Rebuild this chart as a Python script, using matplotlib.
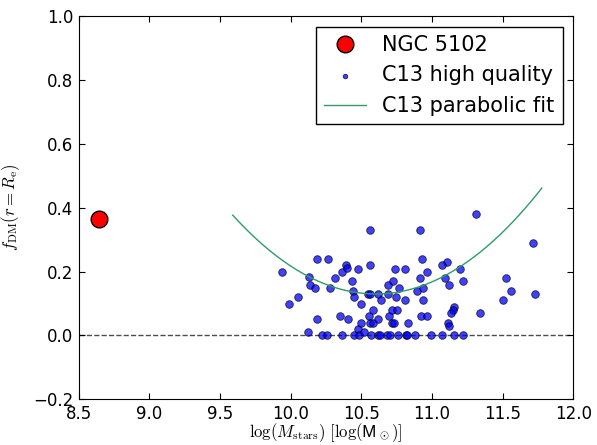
import numpy as np
import matplotlib
matplotlib.use('Agg')
import matplotlib.pyplot as plt

plt.rcParams['mathtext.fontset'] = 'cm'

# NGC 5102
ngc_x = [8.644]
ngc_y = [0.364]

# C13 high quality sample
c13_x = [9.937, 9.988, 10.054, 10.128, 10.137, 10.170, 10.189, 10.189, 10.123, 10.220,
         10.259, 10.266, 10.278, 10.314, 10.351, 10.363, 10.361, 10.392, 10.397, 10.408,
         10.434, 10.443, 10.446, 10.446, 10.479, 10.479, 10.486, 10.498, 10.498, 10.521,
         10.564, 10.564, 10.550, 10.562, 10.552, 10.581, 10.562, 10.585, 10.567, 10.618,
         10.637, 10.618, 10.618, 10.632, 10.684, 10.703, 10.689, 10.689, 10.698, 10.717,
         10.726, 10.717, 10.731, 10.736, 10.743, 10.751, 10.765, 10.758, 10.816, 10.823,
         10.880, 10.809, 10.809, 10.828, 10.892, 10.915, 10.927, 10.913, 10.939, 10.935,
         10.963, 10.923, 10.967, 10.990, 11.312, 11.717, 11.104, 11.071, 11.201, 11.094,
         11.121, 11.222, 11.524, 11.557, 11.727, 11.503, 11.340, 11.156, 11.147, 11.133,
         11.111, 11.119, 11.069, 11.156, 11.222]
c13_y = [0.200, 0.100, 0.120, 0.182, 0.159, 0.150, 0.239, 0.051, 0.010, 0.0,
         0.0, 0.239, 0.150, 0.179, 0.060, 0.0, 0.200, 0.220, 0.211, 0.051,
         0.170, 0.139, 0.120, 0.0, 0.020, 0.209, 0.0, 0.100, 0.039, 0.010,
         0.330, 0.220, 0.130, 0.130, 0.060, 0.080, 0.039, 0.039, 0.0, 0.130,
         0.110, 0.051, 0.0, 0.0, 0.0, 0.0, 0.159, 0.130, 0.060, 0.080,
         0.170, 0.039, 0.039, 0.209, 0.120, 0.080, 0.150, 0.0, 0.0, 0.0,
         0.0, 0.209, 0.110, 0.039, 0.139, 0.330, 0.239, 0.179, 0.150, 0.110,
         0.200, 0.060, 0.060, 0.0, 0.380, 0.290, 0.229, 0.220, 0.209, 0.180,
         0.159, 0.170, 0.180, 0.139, 0.130, 0.110, 0.070, 0.090, 0.080, 0.070,
         0.039, 0.030, 0.0, 0.0, 0.0]

# parabolic fit: f = a*(x - x0)**2 + c, drawn over the fitted range
fit_a, fit_x0, fit_c = 0.2407, 10.603, 0.130
fit_range = (9.59, 11.777)

fig = plt.figure(figsize=(5.97, 4.45), dpi=100)
ax = fig.add_axes([0.1318, 0.1027, 0.8285, 0.8607])

ax.plot(ngc_x, ngc_y, 'o', color='red', markeredgecolor='k', markersize=12,
        label='NGC 5102', zorder=3)
ax.scatter(c13_x, c13_y, s=30, color='blue', edgecolor='k', linewidth=0.6,
           alpha=0.75, label='C13 high quality', zorder=2)
xf = np.linspace(fit_range[0], fit_range[1], 200)
ax.plot(xf, fit_a * (xf - fit_x0) ** 2 + fit_c, color='#2e9c6a', lw=1,
        label='C13 parabolic fit', zorder=2)
ax.axhline(0, color='0.3', ls='--', lw=1, zorder=1)

ax.set_xlim(8.5, 12.0)
ax.set_ylim(-0.2, 1.0)
ax.set_xticks(np.arange(8.5, 12.01, 0.5))
ax.set_yticks(np.arange(-0.2, 1.01, 0.2))
ax.tick_params(direction='in', top=True, right=True, labelsize=12, length=4, pad=4)
ax.set_xlabel(r'$\log(M_{\rm stars})\ [\log(\mathsf{M}_\odot)]$', fontsize=12,
              labelpad=-1)
ax.set_ylabel(r'$f_{\rm DM}(r=R_{\rm e})$', fontsize=12, labelpad=8)

leg = ax.legend(loc='upper right', numpoints=1, scatterpoints=1, fontsize=15,
                fancybox=False, framealpha=1, edgecolor='k', markerscale=0.6,
                borderaxespad=0.5)
leg.get_frame().set_linewidth(1)
leg.legend_handles[0].set_markersize(12)

fig.savefig('out.png', dpi=100)
